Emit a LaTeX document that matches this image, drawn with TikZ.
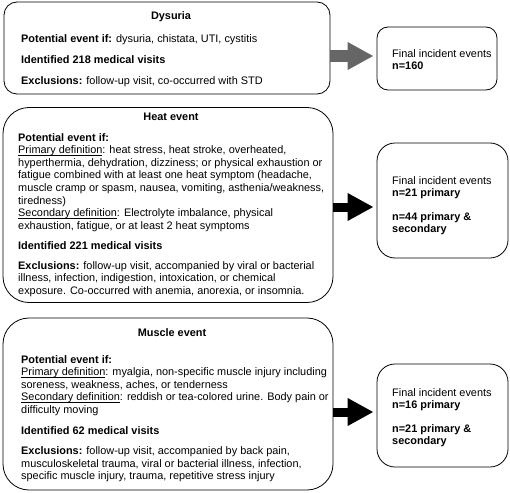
\documentclass[tikz,border=0pt]{standalone}
\usepackage{fontspec}
\setmainfont{Liberation Sans}
\usetikzlibrary{arrows.meta}
\definecolor{arrowgray}{HTML}{666666}
\newcommand{\myul}[1]{\setbox0\hbox{#1}\rlap{\rule[-1.5pt]{\wd0}{0.55pt}}\box0}
\begin{document}
\begin{tikzpicture}[x=1pt,y=-1pt,
  box/.style={draw=black, line width=0.8pt, rounded corners=#1, inner sep=0pt},
  body/.style={anchor=north west, inner sep=0pt, align=left, font=\fontsize{10.9}{12.6}\selectfont},
  title/.style={anchor=north, inner sep=0pt, font=\fontsize{10.9}{12.6}\selectfont\bfseries},
  blockarrow/.style={line width=#1, -{Triangle[length=26pt 0 0, width=26pt 0 0]}, shorten >=3pt}]
\useasboundingbox (0,0) rectangle (510,492);
% left boxes
\node[box=13pt, minimum width=326pt, minimum height=92pt] (dys) at (167,48) {};
\node[box=26pt, minimum width=330pt, minimum height=195pt] (heat) at (168,205) {};
\node[box=26pt, minimum width=330pt, minimum height=172pt] (musc) at (168,404) {};
% right boxes
\node[box=11pt, minimum width=120pt, minimum height=63pt] (fin1) at (437,58.5) {};
\node[box=18pt, minimum width=131pt, minimum height=115pt] (fin2) at (442.5,200.5) {};
\node[box=18pt, minimum width=131pt, minimum height=103pt] (fin3) at (442.5,415.5) {};
% titles
\node[title] (dyst) at (171,11) {Dysuria};
\node[title] (heatt) at (171,113) {Heat event};
\node[title] (musct) at (172,328) {Muscle event};
% bodies
\node[body] (dysb) at (21,34) {\textbf{Potential event if:} dysuria, chistata, UTI, cystitis\\[8.4pt]
\textbf{Identified 218 medical visits}\\[8.4pt]
\textbf{Exclusions:} follow-up visit, co-occurred with STD};
\node[body] (heatb) at (18,133) {\textbf{Potential event if:}\\
\myul{Primary definition}: heat stress, heat stroke, overheated,\\
hyperthermia, dehydration, dizziness; or physical exhaustion or\\
fatigue combined with at least one heat symptom (headache,\\
muscle cramp or spasm, nausea, vomiting, asthenia/weakness,\\
tiredness)\\
\myul{Secondary definition}: Electrolyte imbalance, physical\\
exhaustion, fatigue, or at least 2 heat symptoms\\[7.4pt]
\textbf{Identified 221 medical visits}\\[7.4pt]
\textbf{Exclusions:} follow-up visit, accompanied by viral or bacterial\\
illness, infection, indigestion, intoxication, or chemical\\
exposure. Co-occurred with anemia, anorexia, or insomnia.};
\node[body] (muscb) at (21,355) {\textbf{Potential event if:}\\
\myul{Primary definition}: myalgia, non-specific muscle injury including\\
soreness, weakness, aches, or tenderness\\
\myul{Secondary definition}: reddish or tea-colored urine. Body pain or\\
difficulty moving\\[8pt]
\textbf{Identified 62 medical visits}\\[8pt]
\textbf{Exclusions:} follow-up visit, accompanied by back pain,\\
musculoskeletal trauma, viral or bacterial illness, infection,\\
specific muscle injury, trauma, repetitive stress injury};
\node[body] (fin1b) at (392,49) {Final incident events\\ \textbf{n=160}};
\node[body] (fin2b) at (392,176) {Final incident events\\ \textbf{n=21 primary}\\[11pt] \textbf{n=44 primary \&}\\ \textbf{secondary}};
\node[body] (fin3b) at (392,388) {Final incident events\\ \textbf{n=16 primary}\\[11pt] \textbf{n=21 primary \&}\\ \textbf{secondary}};
% arrows
\draw[blockarrow=12pt, draw=arrowgray, fill=arrowgray] (dys.east |- 0,56) -- (fin1.west |- 0,56);
\draw[blockarrow=9pt, draw=black, fill=black] (heat.east |- 0,207) -- (fin2.west |- 0,207);
\draw[blockarrow=9pt, draw=black, fill=black] (musc.east |- 0,412) -- (fin3.west |- 0,412);
\end{tikzpicture}
\end{document}
